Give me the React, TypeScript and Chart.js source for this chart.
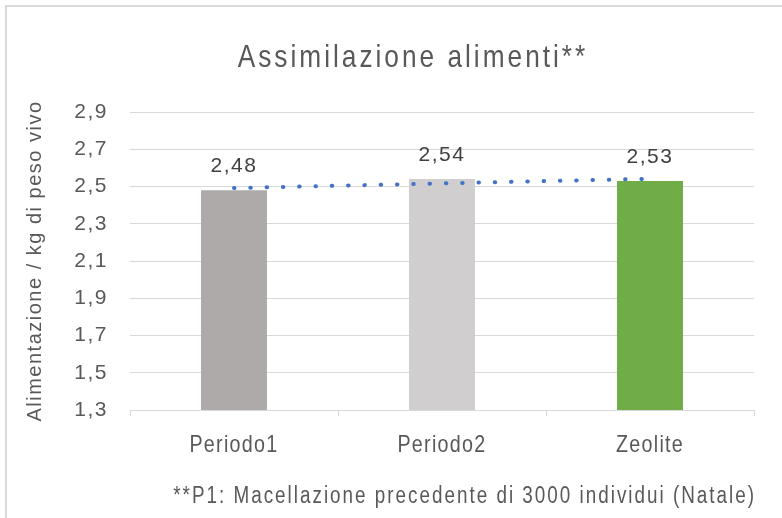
import { useEffect, useRef } from "react";
import { Chart, registerables } from "chart.js";

Chart.register(...registerables);

const categories = ["Periodo1", "Periodo2", "Zeolite"];
const values = [2.48, 2.54, 2.53];
const barColors = ["#AEAAAA", "#D0CECE", "#70AD47"];
const yTicks = [1.3, 1.5, 1.7, 1.9, 2.1, 2.3, 2.5, 2.7, 2.9];
const titleText = "Assimilazione alimenti**";
const yTitleText = "Alimentazione / kg di peso vivo";
const footnoteText = "**P1: Macellazione precedente di 3000 individui (Natale)";

// Linear trendline (least squares) through the bar values, as Excel does
function linearTrend(v: number[]): number[] {
  const n = v.length;
  const xs = v.map((_, i) => i + 1);
  const mx = xs.reduce((a, b) => a + b, 0) / n;
  const my = v.reduce((a, b) => a + b, 0) / n;
  let num = 0;
  let den = 0;
  xs.forEach((x, i) => {
    num += (x - mx) * (v[i] - my);
    den += (x - mx) * (x - mx);
  });
  const slope = num / den;
  return xs.map((x) => my + slope * (x - mx));
}

const fmt = (v: number) => v.toFixed(2).replace(".", ",");

// draw condensed (narrow) text by squeezing Liberation Sans horizontally
function drawNarrow(
  ctx: CanvasRenderingContext2D,
  text: string,
  x: number,
  y: number,
  align: CanvasTextAlign,
  size: number,
  spacing: number,
  squeeze = 0.82
) {
  ctx.save();
  ctx.font = `${size}px 'Liberation Sans'`;
  (ctx as any).letterSpacing = `${spacing / squeeze}px`;
  ctx.textAlign = align;
  ctx.translate(x, y);
  ctx.scale(squeeze, 1);
  ctx.fillText(text, 0, 0);
  ctx.restore();
}

const decor = {
  id: "decor",
  beforeDraw(chart: any) {
    const ctx = chart.ctx;
    ctx.save();
    ctx.fillStyle = "#ffffff";
    ctx.fillRect(0, 0, chart.width, chart.height);
    ctx.strokeStyle = "#D9D9D9";
    ctx.lineWidth = 2;
    ctx.strokeRect(6, 6, chart.width + 40, chart.height + 40);
    ctx.restore();
    ctx.letterSpacing = "1.5px";
  },
  afterDraw(chart: any) {
    const ctx = chart.ctx;
    ctx.save();
    ctx.fillStyle = "#595959";
    ctx.textBaseline = "middle";
    // title
    drawNarrow(ctx, titleText, 413, 58, "center", 32, 3);
    // category labels, placed by the x scale
    const xs = chart.scales.x;
    categories.forEach((c, i) => {
      drawNarrow(ctx, c, xs.getPixelForTick(i), 445, "center", 24, 1.3);
    });
    // footnote
    ctx.textBaseline = "alphabetic";
    drawNarrow(ctx, footnoteText, 756, 503, "right", 23, 2);
    // data labels
    ctx.letterSpacing = "1.5px";
    ctx.font = "21px 'Liberation Sans'";
    ctx.fillStyle = "#404040";
    ctx.textAlign = "center";
    ctx.textBaseline = "middle";
    const meta = chart.getDatasetMeta(1);
    meta.data.forEach((el: any, i: number) => {
      ctx.fillText(fmt(values[i]), el.x, el.y - 24);
    });
    ctx.restore();
  },
};

export default function App() {
  const ref = useRef<HTMLCanvasElement | null>(null);
  useEffect(() => {
    if (!ref.current) return;
    const chart = new Chart(ref.current, {
      type: "bar",
      data: {
        labels: categories,
        datasets: [
          {
            type: "line",
            label: "Trend",
            data: linearTrend(values),
            borderColor: "#4472C4",
            borderWidth: 4,
            borderDash: [0.5, 15.8],
            borderCapStyle: "round",
            pointRadius: 0,
            fill: false,
            tension: 0,
            order: 0,
          } as any,
          {
            type: "bar",
            label: "Valori",
            data: values,
            backgroundColor: barColors,
            categoryPercentage: 1,
            barPercentage: 0.317,
            order: 1,
          },
        ],
      },
      options: {
        responsive: false,
        animation: false,
        layout: { padding: { top: 112, right: 28, left: 0, bottom: 0 } },
        plugins: {
          legend: { display: false },
          title: { display: false },
          tooltip: { enabled: false },
        },
        scales: {
          x: {
            grid: {
              offset: true,
              drawOnChartArea: false,
              drawTicks: true,
              tickLength: 6,
              color: "#D9D9D9",
            },
            border: { display: true, color: "#D9D9D9", width: 1 },
            ticks: { display: false },
            afterFit(scale: any) {
              scale.height = 108;
            },
          },
          y: {
            min: 1.3,
            max: 2.9,
            grid: { color: "#D9D9D9", drawTicks: false },
            border: { display: false },
            ticks: {
              color: "#595959",
              font: { family: "'Liberation Sans'", size: 21 },
              padding: 22,
              callback: (v: any) => Number(v).toFixed(1).replace(".", ","),
            },
            afterBuildTicks(scale: any) {
              scale.ticks = yTicks.map((v) => ({ value: v }));
            },
            title: {
              display: true,
              text: yTitleText,
              color: "#595959",
              font: { family: "'Liberation Sans'", size: 20, lineHeight: 1.2 },
              padding: { top: 23, bottom: 0 },
            },
            afterFit(scale: any) {
              scale.width = 130;
            },
          },
        },
      },
      plugins: [decor],
    });
    return () => chart.destroy();
  }, []);
  return (
    <div style={{ position: "absolute", left: 0, top: 0, width: 782, height: 518 }}>
      <canvas ref={ref} width={782} height={518} />
    </div>
  );
}
